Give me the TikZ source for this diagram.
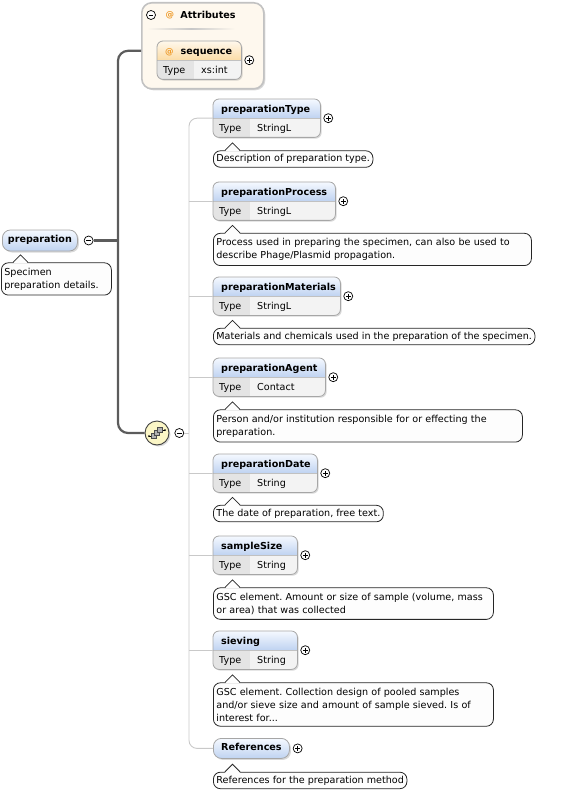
\documentclass[tikz,border=0pt]{standalone}
\usepackage{fontspec}
\setmainfont{DejaVu Sans}
\usepackage{tikz}
\usetikzlibrary{positioning,shadows}
\frenchspacing
\definecolor{headtop}{HTML}{F5F9FF}
\definecolor{headbot}{HTML}{BFD3F1}
\definecolor{attrtop}{HTML}{FFF8EC}
\definecolor{attrbot}{HTML}{FBDCA6}
\definecolor{attrfill}{HTML}{FEF8EE}
\definecolor{attredge}{HTML}{C2C2C2}
\definecolor{atorange}{HTML}{EE9B2A}
\definecolor{typecell}{HTML}{E4E4E4}
\definecolor{valcell}{HTML}{F3F3F3}
\definecolor{boxedge}{HTML}{A6A6A6}
\definecolor{notefill}{HTML}{FDFDFD}
\definecolor{trunkgray}{HTML}{5C5C5C}
\definecolor{childgray}{HTML}{C9C9C9}
\definecolor{seqfill}{HTML}{FBF6C6}
\tikzset{%
    soft/.style={drop shadow={shadow xshift=1.5pt, shadow yshift=-1.5pt, opacity=.3}},
    txt/.style={inner sep=0pt, font=\fontsize{9.6}{13}\selectfont},
    bold/.style={inner sep=0pt, font=\fontsize{9.6}{13}\selectfont\bfseries},
    elhead/.style={top color=headtop, bottom color=headbot},
    attrhead/.style={top color=attrtop, bottom color=attrbot},
    elbox/.style={rectangle, rounded corners=6, minimum height=38, inner sep=0pt, fill=white, soft},
    boxline/.style={draw=boxedge, line width=0.8pt, rounded corners=6},
    mainel/.style={rectangle, rounded corners=8, draw=boxedge, line width=0.8pt, elhead,
        minimum width=75, minimum height=21, inner sep=0pt, text height=7pt, text depth=2pt,
        font=\fontsize{9.6}{13}\selectfont\bfseries, soft},
    attrbox/.style={rectangle, rounded corners=10, draw=attredge, line width=1.6pt, fill=attrfill, inner sep=0pt, soft},
    seqicon/.style={circle, draw=black!75, line width=0.9pt, fill=seqfill, minimum size=24pt, inner sep=0pt, soft},
    note/.style={rectangle, rounded corners=7, draw=black!85, line width=0.8pt, fill=notefill,
        inner xsep=3pt, inner ysep=3.6pt, align=left, font=\fontsize{9.6}{13}\selectfont},
    tallnote/.style={note, inner ysep=5pt},
    btn/.style={circle, draw=black, fill=white, line width=0.7pt, minimum size=9pt, inner sep=0pt},
    plusbtn/.style={btn, path picture={\draw[line width=0.7pt] (path picture bounding box.center)
        +(-2.4pt,0pt) -- +(2.4pt,0pt) +(0pt,-2.4pt) -- +(0pt,2.4pt);}},
    minusbtn/.style={btn, path picture={\draw[line width=0.7pt] (path picture bounding box.center)
        +(-2.4pt,0pt) -- +(2.4pt,0pt);}},
    trunk/.style={draw=trunkgray, line width=2.2pt},
    childline/.style={draw=childgray, line width=0.9pt}
}
\newcommand\XElement[7][elhead]{%
    \node[elbox, minimum width=#5, anchor=north west] (#2) at (#3,#4) {};
    \begin{scope}
        \clip[rounded corners=6] (#2.south west) rectangle (#2.north east);
        \shade[#1] (#2.west) rectangle (#2.north east);
        \fill[typecell] (#2.south west) rectangle ([xshift=37]#2.west);
        \fill[valcell] ([xshift=37]#2.south west) rectangle (#2.east);
    \end{scope}
    \draw[boxedge!70, line width=0.6pt] (#2.west) -- (#2.east);
    \draw[boxline] (#2.south west) rectangle (#2.north east);
    \node[bold, anchor=base west] (#2-name) at ([xshift=8,yshift=6]#2.west) {#6};
    \node[txt, anchor=base west] (#2-type) at ([xshift=6,yshift=-13]#2.west) {Type};
    \node[txt, anchor=base west] (#2-val) at ([xshift=44,yshift=-13]#2.west) {#7};
    \node[plusbtn, right=3pt of #2] (#2-plus) {}
}
\newcommand\NoteTail[1]{%
    \fill[notefill] ([xshift=12,yshift=-1]#1.north west) -- ([xshift=19.5,yshift=7.5]#1.north west)
        -- ([xshift=27,yshift=-1]#1.north west) -- cycle;
    \draw[black!85, line width=0.8pt] ([xshift=12]#1.north west) -- ([xshift=19.5,yshift=7.5]#1.north west)
        -- ([xshift=27]#1.north west)
}
\begin{document}
\begin{tikzpicture}[x=1pt, y=1pt]
    \useasboundingbox (0,0) rectangle (562,-794);

    \node[mainel, anchor=west] (prep) at (2,-240.5) {preparation};
    \node[minusbtn, right=6pt of prep] (prepminus) {};
    \node[tallnote, text width=104pt, below right=11pt and -1pt of prep.south west] (prep-note) {Specimen\\preparation details.};
    \NoteTail{prep-note};

    \node[attrbox, minimum width=122, minimum height=86, anchor=north west] (attrs) at (141,-2) {};
    \node[minusbtn] (attrminus) at (151,-15) {};
    \node[bold, text=atorange, font=\fontsize{8.5}{10}\selectfont\bfseries, right=9.5pt of attrminus] (attrat) {@};
    \node[bold, right=6pt of attrat] (attrlabel) {Attributes};
    \shade[left color=attrfill, right color=attrfill, middle color=black!22] (147,-28.6) rectangle (235,-30);
    \XElement[attrhead]{seqattr}{157}{-41}{84}{\textcolor{atorange}{\fontsize{8.5}{10}\selectfont @}\hspace{7pt}sequence}{xs:int};

    \node[seqicon] (seq) at (157,-433) {};
    \begin{scope}[shift={(seq.center)}]
        \draw[line width=0.7pt] (-8,-3) -- (-4,-3) (4,3) -- (8,3);
        \fill (-8,-3) circle (1) (8,3) circle (1);
        \foreach \d in {-3,0,3}
            \filldraw[fill=gray!60, draw=black!70, line width=0.5pt] (\d-2.6,\d-2.6) rectangle (\d+2.6,\d+2.6);
    \end{scope}
    \node[minusbtn, right=5pt of seq] (seqminus) {};

    \coordinate (trunkmid) at (118,-240.5);
    \draw[trunk] (prepminus) -- (trunkmid);
    \draw[trunk, rounded corners=10] ([yshift=-5]attrs.west) -| (trunkmid) |- (seq);

    \XElement{ptype}{213}{-99}{107}{preparationType}{StringL};
    \node[note, below right=13pt and 0pt of ptype.south west] (ptype-note) {Description of preparation type.};
    \NoteTail{ptype-note};

    \XElement{pproc}{213}{-182}{122}{preparationProcess}{StringL};
    \node[tallnote, text width=312pt, below right=12.5pt and 0pt of pproc.south west] (pproc-note)
        {Process used in preparing the specimen, can also be used to\\describe Phage/Plasmid propagation.};
    \NoteTail{pproc-note};

    \XElement{pmat}{213}{-277}{127}{preparationMaterials}{StringL};
    \node[note, below right=12.5pt and 0pt of pmat.south west] (pmat-note)
        {Materials and chemicals used in the preparation of the specimen.};
    \NoteTail{pmat-note};

    \XElement{pagent}{213}{-358}{112}{preparationAgent}{Contact};
    \node[tallnote, text width=303pt, below right=13pt and 0pt of pagent.south west] (pagent-note)
        {Person and/or institution responsible for or effecting the\\preparation.};
    \NoteTail{pagent-note};

    \XElement{pdate}{213}{-454}{104}{preparationDate}{String};
    \node[note, below right=12.5pt and 0pt of pdate.south west] (pdate-note) {The date of preparation, free text.};
    \NoteTail{pdate-note};

    \XElement{ssize}{213}{-536}{84}{sampleSize}{String};
    \node[tallnote, text width=274pt, below right=13pt and 0pt of ssize.south west] (ssize-note)
        {GSC element. Amount or size of sample (volume, mass\\or area) that was collected};
    \NoteTail{ssize-note};

    \XElement{siev}{213}{-631}{84}{sieving}{String};
    \node[tallnote, text width=274pt, below right=13pt and 0pt of siev.south west] (siev-note)
        {GSC element. Collection design of pooled samples\\and/or sieve size and amount of sample sieved. Is of\\interest for...};
    \NoteTail{siev-note};

    \node[mainel, minimum width=76, minimum height=20, anchor=north west] (refs) at (213,-738) {References};
    \node[plusbtn, right=3pt of refs] (refs-plus) {};
    \node[note, below right=13pt and 0pt of refs.south west] (refs-note) {References for the preparation method};
    \NoteTail{refs-note};

    \coordinate (bus) at (189,-433);
    \draw[childline] (seqminus) -- (bus);
    \draw[childline, rounded corners=8] (ptype) -| (bus) |- (refs);
    \foreach \e in {pproc,pmat,pagent,pdate,ssize,siev}
        \draw[childline] (\e) -- (\e -| bus);
\end{tikzpicture}
\end{document}
